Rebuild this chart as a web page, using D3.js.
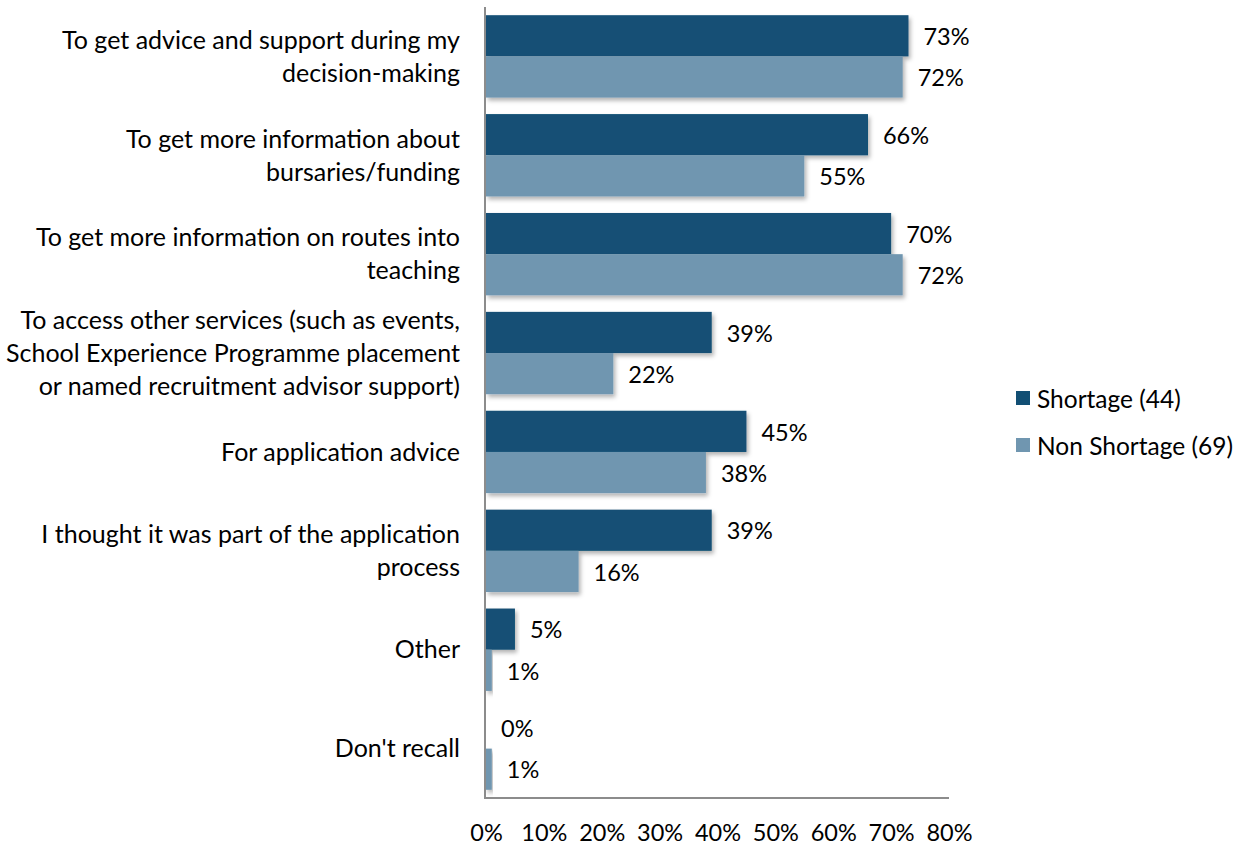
<!DOCTYPE html>
<html>
<head>
<meta charset="utf-8">
<script src="https://cdn.jsdelivr.net/npm/d3@7"></script>
<style>
  html, body { margin: 0; padding: 0; background: #fff; }
  svg text { font-family: Lato, "Open Sans", sans-serif; fill: #000; }
</style>
</head>
<body>
<svg id="chart" width="1242" height="847"></svg>
<script>
// Reasons for contacting the service, by subject group (% of respondents)
const categories = [
  ["To get advice and support during my", "decision-making"],
  ["To get more information about", "bursaries/funding"],
  ["To get more information on routes into", "teaching"],
  ["To access other services (such as events,", "School Experience Programme placement", "or named recruitment advisor support)"],
  ["For application advice"],
  ["I thought it was part of the application", "process"],
  ["Other"],
  ["Don't recall"]
];
const seriesNames = ["Shortage (44)", "Non Shortage (69)"];
const shortage    = [73, 66, 70, 39, 45, 39, 5, 0];
const nonShortage = [72, 55, 72, 22, 38, 16, 1, 1];
const xTicks = [0, 10, 20, 30, 40, 50, 60, 70, 80];
const colors = ["#124f74", "#7096b0"];

const labelSize = 25, valueSize = 23.5, legendSize = 24.5;
const svg = d3.select("#chart");
const plotLeft = 486, plotRight = 949, plotTop = 7, plotBottom = 798;

const x = d3.scaleLinear().domain([0, 80]).range([plotLeft, plotRight]);
const y = d3.scaleBand().domain(d3.range(categories.length)).range([plotTop, plotBottom]).paddingInner(0.167).paddingOuter(0.083);
const inner = d3.scaleBand().domain([0, 1]).range([0, y.bandwidth()]);

// soft drop shadow under the bars
const defs = svg.append("defs");
const f = defs.append("filter").attr("id", "shadow").attr("x", "-5%").attr("y", "-20%").attr("width", "120%").attr("height", "160%");
f.append("feDropShadow").attr("dx", 2).attr("dy", 3).attr("stdDeviation", 2).attr("flood-color", "#000").attr("flood-opacity", 0.3);

const rows = categories.map((c, i) => ({ i, vals: [shortage[i], nonShortage[i]] }));

const g = svg.append("g");
rows.forEach(r => {
  r.vals.forEach((v, s) => {
    if (v > 0) {
      g.append("rect")
        .attr("x", x(0))
        .attr("y", y(r.i) + inner(s))
        .attr("width", x(v) - x(0))
        .attr("height", inner.bandwidth())
        .attr("fill", colors[s])
        .attr("filter", "url(#shadow)");
    }
    g.append("text")
      .attr("x", x(v) + 15)
      .attr("y", y(r.i) + inner(s) + inner.bandwidth() / 2 + 1)
      .attr("dy", "0.35em")
      .attr("font-size", valueSize)
      .text(v + "%");
  });
});

// category labels, right-aligned to the axis
const lineH = 33;
categories.forEach((lines, i) => {
  const cy = y(i) + y.bandwidth() / 2;
  const t = svg.append("text")
    .attr("text-anchor", "end")
    .attr("font-size", labelSize);
  lines.forEach((ln, k) => {
    t.append("tspan")
      .attr("x", 460)
      .attr("y", cy + (k - (lines.length - 1) / 2) * lineH)
      .attr("dy", "0.35em")
      .text(ln);
  });
});

// axes
const axisColor = "#8c8c8c";
svg.append("line").attr("x1", plotLeft - 1).attr("x2", plotLeft - 1).attr("y1", plotTop).attr("y2", plotBottom)
  .attr("stroke", axisColor).attr("stroke-width", 2);
svg.append("line").attr("x1", plotLeft - 2).attr("x2", plotRight).attr("y1", plotBottom).attr("y2", plotBottom)
  .attr("stroke", axisColor).attr("stroke-width", 2);

const xAxis = d3.axisBottom(x).tickValues(xTicks).tickSize(0).tickFormat(d => d + "%");
const ax = svg.append("g").attr("transform", `translate(0,${plotBottom})`).call(xAxis);
ax.select(".domain").remove();
ax.selectAll("text").attr("font-size", valueSize).attr("y", 35).attr("dy", "0.35em")
  .style("font-family", 'Lato, "Open Sans", sans-serif').attr("fill", "#000");

// legend
const leg = svg.append("g");
seriesNames.forEach((n, s) => {
  const ly = 398 + s * 47;
  leg.append("rect").attr("x", 1016).attr("y", ly - 7).attr("width", 14).attr("height", 14).attr("fill", colors[s]);
  leg.append("text").attr("x", 1037).attr("y", ly + 1).attr("dy", "0.35em").attr("font-size", legendSize).text(n);
});
</script>
</body>
</html>
